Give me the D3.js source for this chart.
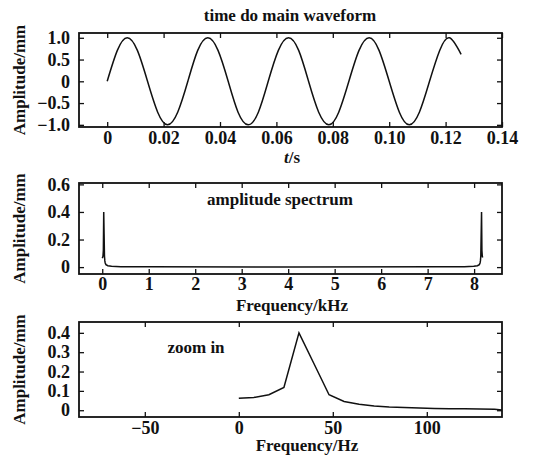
<!DOCTYPE html>
<html>
<head>
    <meta charset="UTF-8">
    <title>time domain waveform / amplitude spectrum</title>
    <script src="https://d3js.org/d3.v7.min.js"></script>
    <style>
        body { margin: 0; background: #fff; }
        svg text {
            font-family: "Liberation Serif", "Times New Roman", serif;
            font-weight: bold;
            fill: #111;
        }
        .frame { fill: none; stroke: #111; stroke-width: 1.8px; }
        .axis path.domain { display: none; }
        .axis line { stroke: #111; stroke-width: 1.3px; }
        .axis text { font-size: 18px; }
        .curve { fill: none; stroke: #111; stroke-width: 1.5px; }
        .label { font-size: 17px; }
    </style>
</head>
<body>
<div id="chart"></div>
<script>
    // time waveform, every 1/8 period (about 35 Hz)
    const timeS = [0, 0.0036, 0.0071, 0.0107, 0.0143, 0.0179, 0.0214, 0.025, 0.0286,
        0.0321, 0.0357, 0.0393, 0.0429, 0.0464, 0.05, 0.0536, 0.0571, 0.0607, 0.0643,
        0.0679, 0.0714, 0.075, 0.0786, 0.0821, 0.0857, 0.0893, 0.0929, 0.0964, 0.1,
        0.1036, 0.1071, 0.1107, 0.1143, 0.1179, 0.1214, 0.1255];
    const timeAmp = [0, 0.71, 1, 0.71, 0, -0.71, -1, -0.71, 0,
        0.71, 1, 0.71, 0, -0.71, -1, -0.71, 0, 0.71, 1,
        0.71, 0, -0.71, -1, -0.71, 0, 0.71, 1, 0.71, 0,
        -0.71, -1, -0.71, 0, 0.71, 1, 0.62];

    // full spectrum, kHz
    const specKHz = [0, 0.008, 0.016, 0.024, 0.032, 0.04, 0.048, 0.056, 0.064, 0.08,
        0.12, 0.2, 0.4, 1, 4.096, 7.192, 7.792, 7.992, 8.072, 8.112, 8.128, 8.136,
        8.144, 8.152, 8.16, 8.168, 8.176, 8.184];
    const specAmp = [0.065, 0.07, 0.08, 0.12, 0.4, 0.24, 0.08, 0.045, 0.03, 0.018,
        0.01, 0.006, 0.003, 0.002, 0.001, 0.002, 0.003, 0.006, 0.01, 0.018, 0.03, 0.045,
        0.08, 0.24, 0.4, 0.12, 0.08, 0.07];

    // zoomed spectrum, Hz
    const zoomHz = [0, 8, 16, 24, 32, 40, 48, 56, 64, 72, 80, 88, 96, 104, 112, 120, 128, 136, 140];
    const zoomAmp = [0.062, 0.066, 0.08, 0.118, 0.4, 0.24, 0.08, 0.045, 0.031, 0.022,
        0.017, 0.014, 0.011, 0.009, 0.008, 0.007, 0.006, 0.005, 0.001];

    const timeTicks = [0, 0.02, 0.04, 0.06, 0.08, 0.10, 0.12, 0.14];
    const timeTickLabels = ["0", "0.02", "0.04", "0.06", "0.08", "0.10", "0.12", "0.14"];
    const waveTicks = [1, 0.5, 0, -0.5, -1];
    const waveTickLabels = ["1.0", "0.5", "0", "\u22120.5", "\u22121.0"];
    const kHzTicks = [0, 1, 2, 3, 4, 5, 6, 7, 8];
    const specTicks = [0, 0.2, 0.4, 0.6];
    const specTickLabels = ["0", "0.2", "0.4", "0.6"];
    const hzTicks = [-50, 0, 50, 100];
    const hzTickLabels = ["\u221250", "0", "50", "100"];
    const zoomTicks = [0, 0.1, 0.2, 0.3, 0.4];
    const zoomTickLabels = ["0", "0.1", "0.2", "0.3", "0.4"];

    const W = 536, H = 455;
    const svg = d3.select("#chart").append("svg")
        .attr("width", W)
        .attr("height", H);

    function drawPanel(p) {
        const x = d3.scaleLinear().domain(p.xDomain).range([79, 502]);
        const y = d3.scaleLinear().domain(p.yDomain).range([p.bottom, p.top]);
        const g = svg.append("g");

        // ticks point inwards on all four sides
        g.append("g").attr("class", "axis")
            .attr("transform", `translate(0,${p.bottom})`)
            .call(d3.axisBottom(x).tickValues(p.xTicks)
                .tickFormat((d, i) => p.xLabels[i])
                .tickSizeInner(-5).tickSizeOuter(0).tickPadding(p.xPad));
        g.append("g").attr("class", "axis")
            .attr("transform", `translate(0,${p.top})`)
            .call(d3.axisTop(x).tickValues(p.xTicks).tickFormat("")
                .tickSizeInner(-5).tickSizeOuter(0));
        g.append("g").attr("class", "axis")
            .attr("transform", "translate(79,0)")
            .call(d3.axisLeft(y).tickValues(p.yTicks)
                .tickFormat((d, i) => p.yLabels[i])
                .tickSizeInner(-5).tickSizeOuter(0).tickPadding(9));
        g.append("g").attr("class", "axis")
            .attr("transform", "translate(502,0)")
            .call(d3.axisRight(y).tickValues(p.yTicks).tickFormat("")
                .tickSizeInner(-5).tickSizeOuter(0));

        g.append("path")
            .attr("class", "curve")
            .attr("d", d3.line()
                .x((d, i) => x(p.xs[i]))
                .y(d => y(d))
                .curve(p.curve)(p.ys));

        g.append("rect")
            .attr("class", "frame")
            .attr("x", 79).attr("y", p.top)
            .attr("width", 502 - 79).attr("height", p.bottom - p.top);

        g.append("text")
            .attr("class", "label")
            .attr("transform", `translate(25,${(p.top + p.bottom) / 2}) rotate(-90)`)
            .attr("text-anchor", "middle")
            .text("Amplitude/mm");
    }

    drawPanel({
        top: 33, bottom: 127,
        xDomain: [-0.01, 0.14], yDomain: [-1.05, 1.11],
        xTicks: timeTicks, xLabels: timeTickLabels, xPad: 4,
        yTicks: waveTicks, yLabels: waveTickLabels,
        xs: timeS, ys: timeAmp, curve: d3.curveNatural
    });
    drawPanel({
        top: 183, bottom: 274,
        xDomain: [-0.5, 8.6], yDomain: [-0.05, 0.61],
        xTicks: kHzTicks, xLabels: kHzTicks.map(String), xPad: 3,
        yTicks: specTicks, yLabels: specTickLabels,
        xs: specKHz, ys: specAmp, curve: d3.curveLinear
    });
    drawPanel({
        top: 322, bottom: 417,
        xDomain: [-85, 140], yDomain: [-0.035, 0.456],
        xTicks: hzTicks, xLabels: hzTickLabels, xPad: 4,
        yTicks: zoomTicks, yLabels: zoomTickLabels,
        xs: zoomHz, ys: zoomAmp, curve: d3.curveLinear
    });

    // titles and axis names
    const notes = [
        { x: 290, y: 21, text: "time do main waveform" },
        { x: 280, y: 205, text: "amplitude spectrum" },
        { x: 196, y: 353, text: "zoom in" },
        { x: 292, y: 311, text: "Frequency/kHz" },
        { x: 307, y: 451, text: "Frequency/Hz" }
    ];
    svg.selectAll("text.note")
        .data(notes)
        .join("text")
        .attr("class", "note label")
        .attr("x", d => d.x)
        .attr("y", d => d.y)
        .attr("text-anchor", "middle")
        .text(d => d.text);

    const ts = svg.append("text")
        .attr("class", "label")
        .attr("x", 292).attr("y", 163)
        .attr("text-anchor", "middle");
    ts.append("tspan").attr("font-style", "italic").text("t");
    ts.append("tspan").text("/s");
</script>
</body>
</html>
